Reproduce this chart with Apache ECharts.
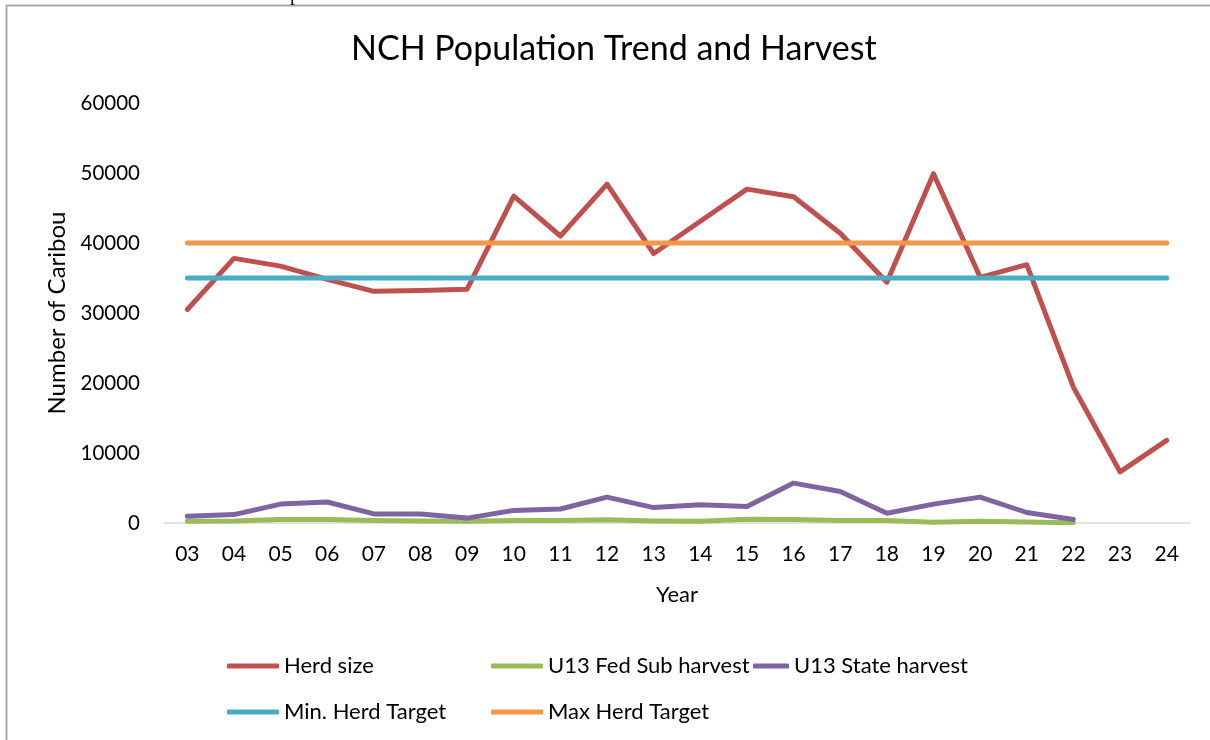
<!DOCTYPE html>
<html><head><meta charset="utf-8">
<script src="https://cdn.jsdelivr.net/npm/echarts@6/dist/echarts.min.js"></script>
<style>html,body{margin:0;padding:0;background:#fff}#c{width:1210px;height:740px}</style>
</head><body><div id="c"></div>
<script>
const years = ['03','04','05','06','07','08','09','10','11','12','13','14','15','16','17','18','19','20','21','22','23','24'];
const herdSize = [30500,37800,36700,34800,33100,33200,33400,46700,41000,48400,38500,43100,47700,46600,41400,34400,49900,35100,36900,19400,7300,11800];
const fedSubHarvest = [250,300,500,500,350,300,250,350,350,450,300,250,550,500,350,350,100,250,150,50];
const stateHarvest = [950,1200,2700,3000,1300,1300,700,1800,2000,3700,2200,2600,2350,5700,4500,1400,2700,3700,1500,500];
const minTarget = [35000,35000,35000,35000,35000,35000,35000,35000,35000,35000,35000,35000,35000,35000,35000,35000,35000,35000,35000,35000,35000,35000];
const maxTarget = [40000,40000,40000,40000,40000,40000,40000,40000,40000,40000,40000,40000,40000,40000,40000,40000,40000,40000,40000,40000,40000,40000];
const yTicks = [0,10000,20000,30000,40000,50000,60000];

const FONT = 'Lato';
const colors = {herd:'#C0504D', fed:'#9BBB59', state:'#8064A2', min:'#4BACC6', max:'#F79646'};

function mkSeries(name, data, color) {
  return {
    name, type:'line', data, symbol:'none', color,
    lineStyle:{width:5, color, cap:'round', join:'round'},
    emphasis:{disabled:true}, animation:false
  };
}
function mkLegend(name, left, top, w) {
  return {
    data:[name], left, top, icon:'roundRect', itemWidth:w||52, itemHeight:5,
    textStyle:{fontFamily:FONT, fontSize:22, color:'#000'},
    selectedMode:false
  };
}

const chart = echarts.init(document.getElementById('c'), null, {renderer:'canvas'});
chart.setOption({
  backgroundColor:'#fff',
  animation:false,
  title:{text:'NCH Population Trend and Harvest', left:346, top:27,
    textStyle:{fontFamily:FONT, fontSize:34, fontWeight:'normal', color:'#000'}},
  grid:{left:164, right:20, top:103, bottom:217},
  xAxis:{type:'category', data:years, boundaryGap:true,
    name:'Year', nameLocation:'middle', nameGap:61,
    nameTextStyle:{fontFamily:FONT, fontSize:22, color:'#000'},
    axisLine:{lineStyle:{color:'#D9D9D9', width:1.5}},
    axisTick:{show:false},
    axisLabel:{fontFamily:FONT, fontSize:21, color:'#000', margin:21}},
  yAxis:{type:'value', min:0, max:60000, interval:10000,
    name:'Number of Caribou', nameLocation:'middle', nameGap:93, nameRotate:90,
    nameTextStyle:{fontFamily:FONT, fontSize:24, color:'#000'},
    axisLine:{show:false}, axisTick:{show:false}, splitLine:{show:false},
    axisLabel:{fontFamily:FONT, fontSize:20.5, color:'#000', margin:24,
      formatter:(v)=> yTicks.includes(v) ? String(v) : ''}},
  legend:[
    mkLegend('Herd size', 222, 650),
    mkLegend('U13 Fed Sub harvest', 486, 650),
    mkLegend('U13 State harvest', 748, 650, 36),
    mkLegend('Min. Herd Target', 222, 696),
    mkLegend('Max Herd Target', 486, 696)
  ],
  graphic:[
    {type:'line', shape:{x1:6, y1:5.5, x2:1210, y2:5.5}, style:{stroke:'#ABABAB', lineWidth:2}, silent:true},
    {type:'line', shape:{x1:6.5, y1:5, x2:6.5, y2:740}, style:{stroke:'#ABABAB', lineWidth:2}, silent:true},
    {type:'text', left:290, top:-15, style:{text:'p', font:'20px "Liberation Serif"', fill:'#000'}, silent:true}
  ],
  series:[
    mkSeries('Herd size', herdSize, colors.herd),
    mkSeries('U13 Fed Sub harvest', fedSubHarvest, colors.fed),
    mkSeries('U13 State harvest', stateHarvest, colors.state),
    mkSeries('Min. Herd Target', minTarget, colors.min),
    mkSeries('Max Herd Target', maxTarget, colors.max)
  ]
});
</script>
</body></html>
